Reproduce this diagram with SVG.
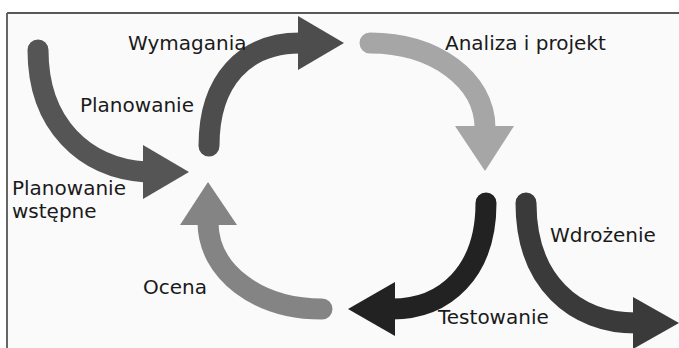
<svg xmlns="http://www.w3.org/2000/svg" width="679" height="348" viewBox="0 0 679 348">
<style>
.lbl{font-family:"DejaVu Sans","Liberation Sans",sans-serif;font-size:20px;fill:#1a1a1a}
.shaft{fill:none;stroke-width:21;stroke-linecap:round}
</style>
<rect x="0" y="0" width="679" height="348" fill="#ffffff"/>
<rect x="7" y="13" width="672" height="335" fill="#fafafa"/>
<line x1="7" y1="13" x2="679" y2="13" stroke="#222" stroke-width="1.5"/>
<line x1="7" y1="13" x2="7" y2="348" stroke="#666" stroke-width="2"/>
<g id="connectors">
<g id="planowanie-arrow">
<path class="shaft" stroke="#555555" d="M38,50 C38,125 85,168 146,172"/>
<polygon fill="#555555" points="143,145 189,172 143,199"/>
</g>
<g id="wymagania-arrow">
<path class="shaft" stroke="#4d4d4d" d="M209,146 C209,80 245,43 300,43"/>
<polygon fill="#4d4d4d" points="298,16 344,43 298,70"/>
</g>
<g id="analiza-arrow">
<path class="shaft" stroke="#a6a6a6" d="M370,43 C435,43 485,80 485,128"/>
<polygon fill="#a6a6a6" points="455,126 514,126 485,171"/>
</g>
<g id="testowanie-arrow">
<path class="shaft" stroke="#222222" d="M486,203 C486,272 445,309 392,309"/>
<polygon fill="#222222" points="395,282 395,336 348,309"/>
</g>
<g id="wdrozenie-arrow">
<path class="shaft" stroke="#3a3a3a" d="M526,203 C526,282 575,323 636,323"/>
<polygon fill="#3a3a3a" points="633,297 679,323 633,349"/>
</g>
<g id="ocena-arrow">
<path class="shaft" stroke="#848484" d="M322,309 C258,309 208,272 208,222"/>
<polygon fill="#848484" points="180,225 237,225 208,182"/>
</g>
</g>
<g id="node-wymagania"><text class="lbl" x="128" y="50">Wymagania</text></g>
<g id="node-planowanie"><text class="lbl" x="80" y="112">Planowanie</text></g>
<g id="node-analiza"><text class="lbl" x="445" y="50">Analiza i projekt</text></g>
<g id="node-planowanie-wstepne"><text class="lbl" x="12" y="195">Planowanie</text><text class="lbl" x="12" y="218">wstępne</text></g>
<g id="node-ocena"><text class="lbl" x="143" y="294">Ocena</text></g>
<g id="node-testowanie"><text class="lbl" x="438" y="324">Testowanie</text></g>
<g id="node-wdrozenie"><text class="lbl" x="550" y="242">Wdrożenie</text></g>
</svg>
